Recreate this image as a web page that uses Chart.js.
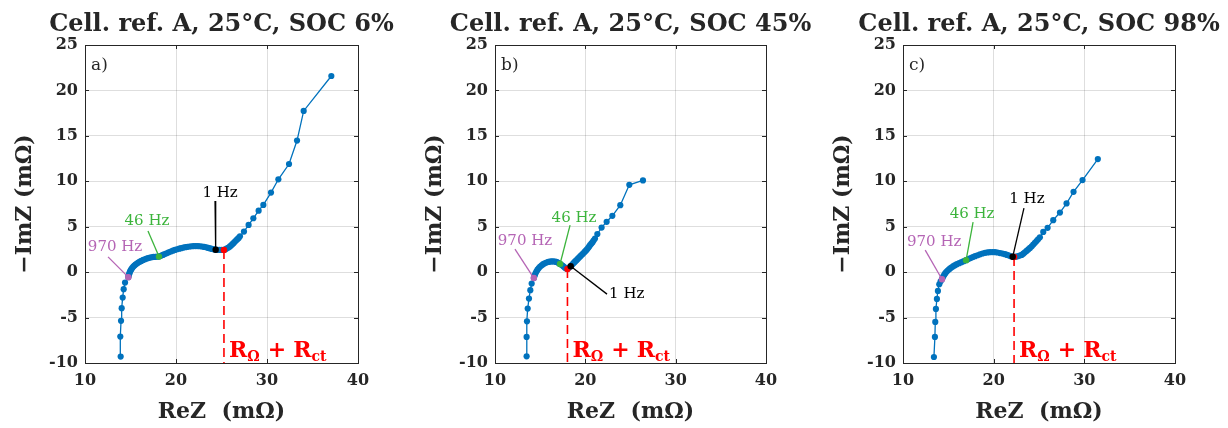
<!DOCTYPE html>
<html><head><meta charset="utf-8">
<script src="https://cdn.jsdelivr.net/npm/chart.js@4"></script>
<style>
html,body{margin:0;padding:0;background:#fff;width:1228px;height:428px;overflow:hidden}
.p{position:absolute;top:0;width:410px;height:428px}
</style></head><body>
<div class="p" style="left:0"><canvas id="c0" width="410" height="428"></canvas></div>
<div class="p" style="left:410px"><canvas id="c1" width="410" height="428"></canvas></div>
<div class="p" style="left:818px"><canvas id="c2" width="410" height="428"></canvas></div>
<script>
// ---- data ----
const titles = ['Cell. ref. A, 25°C, SOC 6%', 'Cell. ref. A, 25°C, SOC 45%', 'Cell. ref. A, 25°C, SOC 98%'];
const panelTags = ['a)', 'b)', 'c)'];
const xTicks = [10, 20, 30, 40];
const yTicks = [-10, -5, 0, 5, 10, 15, 20, 25];
const xTitle = 'ReZ  (mΩ)';
const yTitle = '−ImZ (mΩ)';
const hzLabels = ['970 Hz', '46 Hz', '1 Hz'];

const aRe = [13.92,13.88,13.96,14.03,14.14,14.25,14.40,
  14.76,14.80,14.85,14.90,14.95,15.02,15.10,15.20,15.31,15.43,15.55,15.70,15.86,16.03,16.20,16.40,16.59,16.77,16.95,17.14,17.33,17.53,17.73,17.93,
  18.13,18.34,18.55,18.76,18.97,19.20,19.43,19.66,19.89,20.12,20.35,20.57,20.80,21.04,21.27,21.50,21.73,21.95,22.18,22.41,22.64,22.87,23.10,23.33,23.55,23.75,23.95,24.15,
  24.36,24.58,24.80,25.03,25.27,25.44,25.60,25.77,25.93,26.07,26.20,26.34,26.48,26.62,26.75,26.89,27.03,
  27.47,27.98,28.50,29.08,29.60,30.44,31.25,32.42,33.30,34.03,37.07];
const aIm = [-9.29,-7.09,-5.36,-3.97,-2.80,-1.88,-1.15,
  -0.55,-0.38,-0.22,-0.08,0.06,0.20,0.33,0.47,0.61,0.73,0.84,0.95,1.05,1.15,1.24,1.34,1.42,1.49,1.55,1.60,1.64,1.67,1.69,1.70,
  1.71,1.80,1.90,1.99,2.08,2.18,2.27,2.36,2.45,2.52,2.58,2.64,2.70,2.75,2.79,2.82,2.85,2.87,2.87,2.87,2.85,2.82,2.78,2.73,2.67,2.61,2.56,2.51,
  2.47,2.45,2.44,2.44,2.45,2.52,2.62,2.71,2.83,2.96,3.08,3.22,3.36,3.50,3.63,3.77,3.95,
  4.46,5.20,5.93,6.77,7.40,8.76,10.22,11.90,14.48,17.74,21.59];

const bRe = [13.50,13.50,13.54,13.62,13.76,13.91,14.06,
  14.30,14.35,14.42,14.50,14.60,14.71,14.85,15.00,15.17,15.33,15.50,15.70,15.90,16.08,16.25,16.45,16.64,16.80,16.95,17.08,
  17.20,17.35,17.50,17.63,17.75,17.88,18.02,18.20,18.38,18.50,18.62,18.74,18.85,18.95,19.05,19.18,19.30,19.43,19.55,19.67,19.78,19.92,20.05,20.18,20.30,20.41,20.52,20.66,20.80,20.93,21.07,
  21.33,21.80,22.36,22.99,23.87,24.87,26.38];
const bIm = [-9.26,-7.13,-5.41,-4.01,-2.91,-1.99,-1.26,
  -0.65,-0.48,-0.30,-0.10,0.10,0.27,0.45,0.61,0.76,0.88,0.98,1.06,1.12,1.16,1.18,1.18,1.16,1.12,1.05,0.98,
  0.90,0.80,0.69,0.58,0.48,0.40,0.35,0.50,0.65,0.78,0.92,1.04,1.15,1.25,1.35,1.48,1.60,1.73,1.85,1.97,2.08,2.22,2.36,2.50,2.65,2.80,2.97,3.13,3.30,3.50,3.70,
  4.20,4.91,5.54,6.20,7.37,9.61,10.09];

const cRe = [13.41,13.52,13.56,13.63,13.74,13.85,14.00,14.15,
  14.30,14.37,14.45,14.55,14.65,14.77,14.90,15.05,15.20,15.37,15.55,15.74,15.94,16.20,16.45,16.70,
  16.96,17.20,17.45,17.70,17.95,18.22,18.50,18.77,19.05,19.32,19.60,19.88,20.15,20.42,20.70,20.98,21.25,21.48,21.70,21.90,
  22.10,22.25,22.45,22.65,22.87,23.09,23.27,23.45,23.63,23.82,24.01,24.20,24.37,24.55,24.73,24.90,25.10,
  25.47,25.95,26.57,27.31,28.04,28.81,29.80,31.49];
const cIm = [-9.34,-7.13,-5.48,-4.05,-2.95,-2.07,-1.33,-1.00,
  -0.78,-0.60,-0.45,-0.29,-0.14,0.01,0.15,0.28,0.41,0.54,0.66,0.77,0.88,0.99,1.10,1.21,
  1.32,1.44,1.55,1.66,1.76,1.86,1.96,2.05,2.13,2.17,2.20,2.21,2.20,2.16,2.10,2.04,1.98,1.90,1.82,1.75,
  1.69,1.68,1.70,1.75,1.82,1.90,2.03,2.18,2.34,2.50,2.67,2.85,3.04,3.23,3.42,3.62,3.84,
  4.43,4.88,5.72,6.56,7.56,8.84,10.13,12.44];

const p970Re = [14.76, 14.30, 14.30], p970Im = [-0.55, -0.65, -0.78];
const p46Re  = [18.13, 17.20, 16.96], p46Im  = [1.71, 0.90, 1.32];
const p1Re   = [24.36, 18.38, 22.10], p1Im   = [2.47, 0.65, 1.69];
const rctRe  = [25.27, 18.02, 22.25], rctIm  = [2.45, 0.35, 1.68];

// ---- layout / styles (annotation label anchors in axis units) ----
const layouts = [
  {padR: 52, lab: [[13.30, 2.78, 12.53, 1.68], [16.81, 5.64, 16.92, 4.54], [24.84, 8.72, 24.29, 7.84]]},
  {padR: 54, lab: [[13.32, 3.41, 12.21, 2.53], [18.75, 5.95, 18.31, 5.18], [24.62, -2.42, 22.40, -2.42]]},
  {padR: 53, lab: [[13.44, 3.30, 12.45, 2.42], [17.62, 6.39, 17.73, 5.51], [23.67, 8.04, 23.34, 7.05]]}
];
const series = [[aRe, aIm], [bRe, bIm], [cRe, cIm]];
const BLUE = '#0072BD', PURPLE = '#B565B5', GREEN = '#3CB43C', RED = '#FF0000', INK = '#262626';
const hzColors = [PURPLE, GREEN, '#000000'];
const FAM = "'DejaVu Serif', 'Liberation Serif', serif";

const zip = (xs, ys) => xs.map((x, i) => ({x, y: ys[i]}));

const framePlugin = {
  id: 'frame',
  afterDraw(chart) {
    const {ctx, chartArea: ca, scales: {x, y}} = chart;
    const i = chart.options.panelIndex;
    ctx.save();
    // title
    ctx.fillStyle = INK;
    ctx.font = `bold 24px ${FAM}`;
    ctx.textAlign = 'center'; ctx.textBaseline = 'alphabetic';
    ctx.fillText(titles[i], (ca.left + ca.right) / 2, 31);
    // inward ticks
    ctx.strokeStyle = INK; ctx.lineWidth = 1;
    ctx.beginPath();
    yTicks.forEach(v => {
      const py = Math.round(y.getPixelForValue(v)) + 0.5;
      ctx.moveTo(ca.left, py); ctx.lineTo(ca.left + 4, py);
      ctx.moveTo(ca.right, py); ctx.lineTo(ca.right - 4, py);
    });
    xTicks.forEach(v => {
      const px = Math.round(x.getPixelForValue(v)) + 0.5;
      ctx.moveTo(px, ca.bottom); ctx.lineTo(px, ca.bottom - 4);
      ctx.moveTo(px, ca.top); ctx.lineTo(px, ca.top + 4);
    });
    ctx.stroke();
    // box
    ctx.strokeRect(Math.round(ca.left) + 0.5, Math.round(ca.top) + 0.5, Math.round(ca.right - ca.left), Math.round(ca.bottom - ca.top));
    // panel tag
    ctx.font = `17px ${FAM}`;
    ctx.textBaseline = 'middle'; ctx.textAlign = 'left';
    ctx.fillText(panelTags[i], ca.left + 6, ca.top + 21);
    // Hz labels
    ctx.font = `15px ${FAM}`;
    layouts[i].lab.forEach((l, k) => {
      ctx.fillStyle = hzColors[k];
      if (i === 1 && k === 2) { ctx.textAlign = 'left'; ctx.fillText(hzLabels[k], x.getPixelForValue(l[0]) - 18, y.getPixelForValue(l[1])); }
      else { ctx.textAlign = 'center'; ctx.fillText(hzLabels[k], x.getPixelForValue(l[0]), y.getPixelForValue(l[1])); }
    });
    // R_Ω + R_ct label
    ctx.fillStyle = RED; ctx.textAlign = 'left'; ctx.textBaseline = 'alphabetic';
    let px = x.getPixelForValue(rctRe[i]) + 5;
    const base = ca.bottom - 6;
    const big = `bold 22px ${FAM}`, small = `bold 14px ${FAM}`;
    const put = (t, f, dy) => { ctx.font = f; ctx.fillText(t, px, base + dy); px += ctx.measureText(t).width; };
    put('R', big, 0); put('Ω', small, 4); px += 8; put('+', big, 0); px += 7; put('R', big, 0); put('ct', small, 4);
    ctx.restore();
  }
};

for (let i = 0; i < 3; i++) {
  const L = layouts[i];
  const datasets = [];
  const specials = [[p970Re, p970Im, PURPLE], [p46Re, p46Im, GREEN], [p1Re, p1Im, '#000000'], [rctRe, rctIm, RED]];
  specials.forEach(([rx, ry, col], k) => {
    datasets.push({data: [{x: rx[i], y: ry[i]}], showLine: false, pointRadius: 3.2, pointBorderWidth: 0,
      pointBackgroundColor: col, backgroundColor: col, borderColor: col, order: k === 2 ? 0 : 1});
  });
  const pts = [[p970Re, p970Im], [p46Re, p46Im], [p1Re, p1Im]];
  L.lab.forEach((l, k) => {
    datasets.push({data: [{x: l[2], y: l[3]}, {x: pts[k][0][i], y: pts[k][1][i]}], showLine: true, pointRadius: 0,
      borderColor: hzColors[k], borderWidth: 1.3, order: 2});
  });
  datasets.push({data: [{x: rctRe[i], y: rctIm[i]}, {x: rctRe[i], y: yTicks[0]}], showLine: true, pointRadius: 0,
    borderColor: RED, borderWidth: 1.6, borderDash: [9, 5], order: 3});
  datasets.push({data: zip(series[i][0], series[i][1]), showLine: true, borderColor: BLUE, borderWidth: 1.3,
    pointRadius: 3.1, pointBorderWidth: 0, pointBackgroundColor: BLUE, tension: 0, order: 4});

  new Chart(document.getElementById('c' + i), {
    type: 'scatter',
    data: {datasets},
    plugins: [framePlugin],
    options: {
      panelIndex: i,
      responsive: false, animation: false, events: [],
      layout: {padding: {left: 0, right: L.padR, top: 45, bottom: 0}},
      plugins: {legend: {display: false}, tooltip: {enabled: false}, title: {display: false}},
      scales: {
        x: {
          type: 'linear', min: xTicks[0], max: xTicks[xTicks.length - 1],
          afterBuildTicks: s => { s.ticks = xTicks.map(v => ({value: v})); },
          afterFit: s => { s.height = 65; },
          grid: {color: 'rgba(0,0,0,0.13)', drawTicks: false},
          border: {display: false},
          ticks: {color: INK, padding: 8, font: {family: FAM, size: 16, weight: 'bold'}},
          title: {display: true, text: xTitle, color: INK, font: {family: FAM, size: 22, weight: 'bold', lineHeight: 1.2}, padding: {top: 0, bottom: 3}}
        },
        y: {
          type: 'linear', min: yTicks[0], max: yTicks[yTicks.length - 1],
          afterBuildTicks: s => { s.ticks = yTicks.map(v => ({value: v})); },
          afterFit: s => { s.width = 85; },
          grid: {color: 'rgba(0,0,0,0.13)', drawTicks: false},
          border: {display: false},
          ticks: {color: INK, padding: 7, font: {family: FAM, size: 16, weight: 'bold'}},
          title: {display: true, text: yTitle, color: INK, font: {family: FAM, size: 22, weight: 'bold', lineHeight: 1.2}, padding: {top: 12, bottom: 0}}
        }
      }
    }
  });
}
</script>
</body></html>
